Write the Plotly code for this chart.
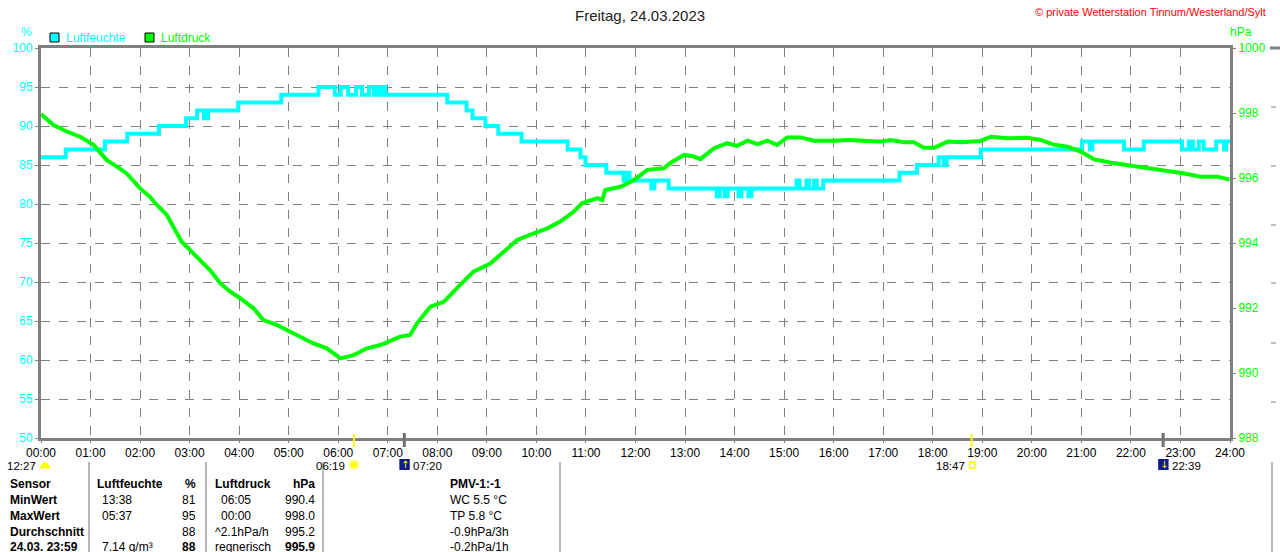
import plotly.graph_objects as go

# Luftfeuchte (%), Stufenwerte: Zeit in Stunden
hum_t = [0.0, 0.50, 1.29, 1.74, 2.38, 2.93, 3.15, 3.29, 3.37, 3.98, 4.85, 5.60, 5.93, 6.05,
         6.20, 6.36, 6.48, 6.62, 6.72, 6.76, 6.80, 6.84, 6.88, 6.92, 6.95, 8.20, 8.59, 8.71,
         8.97, 9.23, 9.70, 10.63, 10.89, 10.99, 11.41, 11.76, 11.82, 11.88, 12.32, 12.38, 12.67,
         13.64, 13.70, 13.80, 13.86, 14.08, 14.14, 14.28, 14.34, 15.25, 15.31, 15.45, 15.50,
         15.60, 15.66, 15.79, 17.33, 17.68, 18.12, 18.22, 18.28, 18.97, 21.01, 21.17, 21.22,
         21.86, 22.26, 23.03, 23.17, 23.25, 23.37, 23.47, 23.72, 23.88, 23.92, 24.0]
hum_v = [86, 87, 88, 89, 90, 91, 92, 91, 92, 93, 94, 95, 94, 95,
         94, 95, 94, 95, 94, 95, 94, 95, 94, 95, 94, 93, 92, 91,
         90, 89, 88, 87, 86, 85, 84, 83, 84, 83, 82, 83, 82,
         81, 82, 81, 82, 81, 82, 81, 82, 83, 82, 83, 82,
         83, 82, 83, 84, 85, 86, 85, 86, 87, 88, 87, 88,
         87, 88, 87, 88, 87, 88, 87, 88, 87, 88, 88]

# Luftdruck (hPa)
p_t = [0.0, 0.25, 0.52, 0.79, 1.06, 1.33, 1.53, 1.73, 2.0, 2.2, 2.34, 2.54, 2.67, 2.84,
       3.01, 3.21, 3.41, 3.62, 3.82, 4.02, 4.29, 4.49, 4.76, 5.03, 5.23, 5.50, 5.77, 6.04,
       6.31, 6.58, 6.85, 7.12, 7.25, 7.45, 7.59, 7.86, 8.13, 8.46, 8.73, 9.07, 9.34, 9.61,
       9.95, 10.22, 10.48, 10.75, 10.92, 11.23, 11.33, 11.39, 11.70, 11.97, 12.24, 12.57,
       12.71, 12.98, 13.18, 13.31, 13.58, 13.85, 14.05, 14.26, 14.46, 14.66, 14.86, 15.06,
       15.33, 15.60, 16.01, 16.34, 16.68, 16.95, 17.15, 17.42, 17.62, 17.82, 18.03, 18.30,
       18.57, 18.97, 19.17, 19.51, 19.91, 20.18, 20.45, 20.72, 20.99, 21.26, 21.60, 21.93,
       22.20, 22.47, 22.74, 23.08, 23.41, 23.75, 23.99]
p_v = [997.97, 997.63, 997.43, 997.27, 997.02, 996.55, 996.35, 996.14, 995.68, 995.42, 995.17,
       994.86, 994.50, 994.04, 993.78, 993.48, 993.17, 992.76, 992.50, 992.30, 991.99, 991.63,
       991.48, 991.27, 991.12, 990.91, 990.76, 990.45, 990.55, 990.76, 990.86, 991.02, 991.12,
       991.17, 991.53, 992.04, 992.19, 992.71, 993.12, 993.37, 993.73, 994.09, 994.30, 994.45,
       994.66, 994.96, 995.22, 995.38, 995.32, 995.63, 995.73, 995.94, 996.25, 996.30, 996.47,
       996.71, 996.66, 996.58, 996.91, 997.07, 996.99, 997.15, 997.04, 997.15, 997.02, 997.25,
       997.25, 997.15, 997.15, 997.17, 997.14, 997.12, 997.17, 997.10, 997.10, 996.93, 996.93,
       997.12, 997.10, 997.14, 997.27, 997.22, 997.24, 997.17, 997.02, 996.96, 996.81, 996.57,
       996.47, 996.40, 996.33, 996.30, 996.22, 996.14, 996.04, 996.04, 995.95]

hour_labels = ["%02d:00" % h for h in range(25)]
hum_ticks = [50, 55, 60, 65, 70, 75, 80, 85, 90, 95, 100]
p_ticks = [988, 990, 992, 994, 996, 998, 1000]

# Sonne / Mond
sunrise, sunset = "06:19", "18:47"
moonrise, moonset = "07:20", "22:39"
day_length = "12:27"

# Tabelle unten
tab_label = ["Sensor", "MinWert", "MaxWert", "Durchschnitt", "24.03. 23:59"]
tab_hum_time = ["Luftfeuchte", "13:38", "05:37", "", "7.14 g/m³"]
tab_hum_val = ["%", "81", "95", "88", "88"]
tab_p_time = ["Luftdruck", "06:05", "00:00", "^2.1hPa/h", "regnerisch"]
tab_p_val = ["hPa", "990.4", "998.0", "995.2", "995.9"]
tab_pmv = ["PMV-1:-1", "WC 5.5 °C", "TP 5.8 °C", "-0.9hPa/3h", "-0.2hPa/1h"]

CYAN = "#00ffff"
GREEN = "#00ff00"
GRAY = "#808080"
FONT = "Liberation Sans"

W, H = 1280, 552
L, R, T, B = 41, 1230, 48, 438


def px(x):
    return (x - L) / (R - L)


def py(y):
    return (B - y) / (B - T)


def hrs(s):
    h, m = s.split(":")
    return int(h) + int(m) / 60


def text(s, x, y, xref="paper", anchor="center", size=12, color="black", family=FONT):
    return dict(text=s, x=x, y=py(y), xref=xref, yref="paper", xanchor=anchor, yanchor="middle",
                showarrow=False, font=dict(size=size, color=color, family=family))


fig = go.Figure()
fig.add_trace(go.Scatter(x=hum_t, y=hum_v, mode="lines", line=dict(color=CYAN, width=4, shape="hv"),
                         name="Luftfeuchte", hoverinfo="skip"))
fig.add_trace(go.Scatter(x=p_t, y=p_v, mode="lines", line=dict(color=GREEN, width=4),
                         name="Luftdruck", yaxis="y2", hoverinfo="skip"))

fig.update_layout(
    width=W, height=H,
    margin=dict(l=L, r=W - R, t=T, b=H - B, pad=0, autoexpand=False),
    paper_bgcolor="white", plot_bgcolor="white",
    showlegend=False,
    font=dict(family=FONT, size=12, color="black"),
    xaxis=dict(range=[0, 24], tickvals=list(range(25)), ticktext=hour_labels,
               showgrid=True, gridcolor=GRAY, griddash="dash", gridwidth=1,
               showline=True, linecolor=GRAY, linewidth=3, mirror=True,
               ticks="outside", ticklen=2, tickcolor=GRAY, zeroline=False,
               tickfont=dict(size=12, color="black")),
    yaxis=dict(range=[50, 100], tickvals=hum_ticks,
               showgrid=True, gridcolor=GRAY, griddash="dash", gridwidth=1,
               showline=True, linecolor=GRAY, linewidth=3, mirror=True,
               ticks="outside", ticklen=3, tickcolor=GRAY, zeroline=False,
               tickfont=dict(size=12, color=CYAN)),
    yaxis2=dict(range=[988, 1000], tickvals=p_ticks, overlaying="y", side="right",
                showgrid=False, showline=False, zeroline=False,
                ticks="outside", ticklen=5, tickcolor=GRAY,
                tickfont=dict(size=12, color=GREEN)),
)

ann = []
shapes = []

ann.append(text("Freitag, 24.03.2023", px(640), 15, size=15, color="#222222"))
ann.append(text("© private Wetterstation Tinnum/Westerland/Sylt", px(1268), 12, anchor="right",
                size=11, color="#ff0000"))
ann.append(text("%", px(26), 32, color=CYAN))
ann.append(text("hPa", px(1241), 32, color=GREEN))

# Legende
for x0, col, name in [(50, CYAN, "Luftfeuchte"), (145, GREEN, "Luftdruck")]:
    shapes.append(dict(type="rect", xref="paper", yref="paper", x0=px(x0), x1=px(x0 + 9),
                       y0=py(42), y1=py(33), fillcolor=col, line=dict(color="black", width=1)))
    ann.append(text(name, px(x0 + 14), 37.5, anchor="left", color=col))

# Sonnenauf-/untergang, Mondauf-/untergang
for t in [sunrise, sunset]:
    shapes.append(dict(type="line", xref="x", yref="paper", x0=hrs(t), x1=hrs(t),
                       y0=py(447), y1=py(434), line=dict(color="#ffff00", width=2)))
for t in [moonrise, moonset]:
    shapes.append(dict(type="line", xref="x", yref="paper", x0=hrs(t), x1=hrs(t),
                       y0=py(447), y1=py(433), line=dict(color="#707070", width=3)))

EV = 11.5
ann.append(text(sunrise, hrs(sunrise) - 0.14, 466, xref="x", anchor="right", size=EV))
# Sonnensymbol: gelbe Scheibe mit Strahlenkranz
shapes.append(dict(type="circle", xref="x", yref="paper", x0=hrs(sunrise) - 0.11,
                   x1=hrs(sunrise) + 0.11, y0=py(470), y1=py(459),
                   fillcolor="#ffff99", line=dict(width=0)))
shapes.append(dict(type="circle", xref="x", yref="paper", x0=hrs(sunrise) - 0.065,
                   x1=hrs(sunrise) + 0.065, y0=py(468), y1=py(461.5),
                   fillcolor="#ffff00", line=dict(width=0)))
ann.append(text(sunset, hrs(sunset) - 0.1, 466, xref="x", anchor="right", size=EV))
shapes.append(dict(type="rect", xref="x", yref="paper", x0=hrs(sunset) - 0.04,
                   x1=hrs(sunset) + 0.07, y0=py(468), y1=py(462),
                   line=dict(color="#ffff00", width=1.5)))
for t, arrow in [(moonrise, "↑"), (moonset, "↓")]:
    shapes.append(dict(type="rect", xref="x", yref="paper", x0=hrs(t) - 0.1, x1=hrs(t) + 0.11,
                       y0=py(470), y1=py(459), fillcolor="#101a8a", line=dict(width=0)))
    ann.append(text(arrow, hrs(t) + 0.01, 464.5, xref="x", size=10, color="#ffff00",
                    family="DejaVu Sans"))
    ann.append(text(t, hrs(t) + 0.14, 466, xref="x", anchor="left", size=EV))

ann.append(text(day_length, px(38), 466, anchor="right", size=EV))
shapes.append(dict(type="path", xref="paper", yref="paper",
                   path="M %f,%f Q %f,%f %f,%f Z" % (px(40), py(468), px(45), py(457), px(50), py(468)),
                   fillcolor="#ffff00", line=dict(color="#ffff00", width=1)))

# Tabelle
for xs in [89, 206, 323, 560, 1272]:
    shapes.append(dict(type="line", xref="paper", yref="paper", x0=px(xs), x1=px(xs),
                       y0=py(462), y1=py(560), line=dict(color="#a0a0a0", width=1.5)))

row_y = [484, 500, 516, 532, 547]
for i, y in enumerate(row_y):
    head = i == 0
    last = i == len(row_y) - 1

    def b(s, bold):
        return "<b>%s</b>" % s if bold else s

    ann.append(text(b(tab_label[i], True), px(8), y, anchor="left"))
    ann.append(text(b(tab_hum_time[i], head), px(95 if head else 100), y, anchor="left"))
    ann.append(text(b(tab_hum_val[i], head or last), px(198), y, anchor="right"))
    ann.append(text(b(tab_p_time[i], head), px(213 if (head or i >= 3) else 219), y, anchor="left"))
    ann.append(text(b(tab_p_val[i], head or last), px(317), y, anchor="right"))
    ann.append(text(b(tab_pmv[i], head), px(448), y, anchor="left"))

# abgeschnittenes Nachbardiagramm am rechten Rand
shapes.append(dict(type="line", xref="paper", yref="paper", x0=px(1270), x1=px(1281),
                   y0=py(48), y1=py(48), line=dict(color=GRAY, width=3)))
for yg in [107, 166, 225, 283, 343, 402]:
    shapes.append(dict(type="line", xref="paper", yref="paper", x0=px(1271), x1=px(1276),
                       y0=py(yg), y1=py(yg), line=dict(color=GRAY, width=1)))

fig.update_layout(annotations=ann, shapes=shapes)
fig.write_html("out.html", config={"displayModeBar": False},
               post_script="document.body.style.margin='0';")
